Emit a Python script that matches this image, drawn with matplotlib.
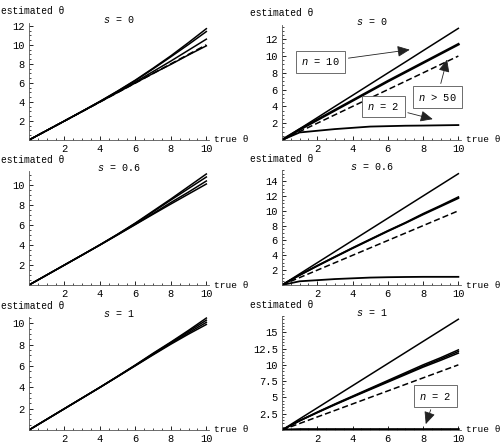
import numpy as np
import matplotlib.pyplot as plt
from matplotlib.ticker import MultipleLocator

plt.rcParams['font.family'] = ['Liberation Mono', 'DejaVu Sans Mono']
plt.rcParams['mathtext.fontset'] = 'custom'
plt.rcParams['mathtext.it'] = 'Liberation Mono:italic'
plt.rcParams['mathtext.rm'] = 'Liberation Mono'

# true theta grid
x = [0, 1, 2, 3, 4, 5, 6, 7, 8, 9, 10]

# left column: estimates for several n (s = 0, 0.6, 1)
left_s0 = [
    [0, 1, 2, 3.02, 4.06, 5.15, 6.3, 7.55, 8.85, 10.25, 11.7],
    [0, 1, 2, 3.02, 4.05, 5.13, 6.25, 7.48, 8.75, 10.05, 11.4],
    [0, 1, 2, 3.0, 4.02, 5.05, 6.1, 7.2, 8.3, 9.45, 10.6],
    [0, 1, 2, 3.0, 4.0, 5.0, 6.0, 7.0, 7.95, 8.95, 9.9],
]
left_s0_dash = [0, 1, 2, 3, 4, 5, 6, 7, 8, 9, 10]
left_s06 = [
    [0, 1, 2, 3.0, 4.02, 5.08, 6.2, 7.4, 8.6, 9.85, 11.1],
    [0, 1, 2, 3.0, 4.02, 5.07, 6.17, 7.32, 8.5, 9.65, 10.8],
    [0, 1, 2, 3.0, 4.0, 5.03, 6.08, 7.15, 8.25, 9.3, 10.4],
    [0, 1, 2, 3.0, 4.0, 5.02, 6.05, 7.08, 8.1, 9.1, 10.1],
]
left_s1 = [
    [0, 1, 2, 3.0, 4.0, 5.04, 6.1, 7.2, 8.25, 9.35, 10.5],
    [0, 1, 2, 3.0, 4.0, 5.03, 6.08, 7.15, 8.2, 9.25, 10.3],
    [0, 1, 2, 3.0, 4.0, 5.02, 6.05, 7.1, 8.12, 9.12, 10.1],
    [0, 1, 2, 3.0, 4.0, 5.01, 6.03, 7.05, 8.05, 9.0, 9.9],
]

# right column
right_s0_n10 = [0, 1.33, 2.66, 4.0, 5.32, 6.65, 7.98, 9.3, 10.64, 11.97, 13.3]
right_s0_mid = [0, 1.25, 2.4, 3.55, 4.7, 5.85, 7.0, 8.1, 9.2, 10.3, 11.4]
right_s0_n2 = [0, 0.9, 1.1, 1.3, 1.45, 1.6, 1.65, 1.7, 1.72, 1.75, 1.78]
right_s06_top = [0, 1.5, 3.0, 4.5, 6.0, 7.5, 9.0, 10.5, 12.0, 13.5, 15.0]
right_s06_mid = [
    [0, 1.35, 2.6, 3.8, 5.0, 6.15, 7.3, 8.4, 9.6, 10.7, 11.85],
    [0, 1.33, 2.57, 3.77, 4.95, 6.1, 7.25, 8.35, 9.5, 10.6, 11.7],
]
right_s06_n2 = [0, 0.5, 0.65, 0.8, 0.9, 1.0, 1.05, 1.08, 1.1, 1.1, 1.1]
right_s1_top = [0, 1.7, 3.4, 5.1, 6.8, 8.5, 10.2, 11.9, 13.6, 15.3, 17.0]
right_s1_mid = [
    [0, 1.45, 2.75, 4.0, 5.2, 6.4, 7.6, 8.8, 10.0, 11.1, 12.3],
    [0, 1.42, 2.7, 3.93, 5.12, 6.3, 7.47, 8.63, 9.8, 10.9, 12.05],
    [0, 1.4, 2.65, 3.87, 5.05, 6.2, 7.35, 8.5, 9.65, 10.7, 11.8],
]
right_s1_n2 = [0, 0.08, 0.08, 0.08, 0.08, 0.08, 0.08, 0.08, 0.08, 0.08, 0.08]
dashed = [0, 1, 2, 3, 4, 5, 6, 7, 8, 9, 10]

titles = ['$s$ = 0', '$s$ = 0.6', '$s$ = 1']

fig = plt.figure(figsize=(5.04, 4.45), dpi=100)

W, H = 504, 445


def make_ax(l, t, r, b, ymax, ystep):
    ax = fig.add_axes([l / W, 1 - b / H, (r - l) / W, (b - t) / H])
    ax.set_xlim(0, 10.15)
    ax.set_ylim(0, ymax)
    for sp in ['top', 'right']:
        ax.spines[sp].set_visible(False)
    for sp in ['left', 'bottom']:
        ax.spines[sp].set_linewidth(0.6)
        ax.spines[sp].set_color('#555555')
    ax.xaxis.set_major_locator(MultipleLocator(2))
    ax.xaxis.set_minor_locator(MultipleLocator(0.5))
    ax.yaxis.set_major_locator(MultipleLocator(ystep))
    ax.yaxis.set_minor_locator(MultipleLocator(ystep / 4))
    ax.tick_params(which='major', direction='in', length=3, width=0.6, labelsize=7.5, pad=3)
    ax.tick_params(which='minor', direction='in', length=1.5, width=0.5)
    ax.set_xticks([2, 4, 6, 8, 10])
    yt = [v for v in np.arange(ystep, ymax, ystep)]
    ax.set_yticks(yt)
    ax.set_yticklabels([('%g' % v) for v in yt])
    ax.patch.set_alpha(0)
    return ax


def decorate(ax, title, w_px, off=32):
    ax.text(-off / w_px, 1.1, 'estimated θ', transform=ax.transAxes, fontsize=6.9,
            ha='left', va='center')
    ax.text(0.5, 1.03, title, transform=ax.transAxes, fontsize=7.2, ha='center', va='center')
    ax.text(1.03, 0.0, 'true θ', transform=ax.transAxes, fontsize=6.8, ha='left', va='center')


lc = 'black'
box = dict(boxstyle='square,pad=0.5', fc='white', ec='#555555', lw=0.6)
arr = dict(arrowstyle='-|>,head_length=1.0,head_width=0.45', color='#222222', lw=0.6)

# left column
rows = [(23, 140, 12.3, 2, left_s0), (171, 285, 11.4, 2, left_s06), (317, 430, 10.6, 2, left_s1)]
for i, (t, b, ymax, st, lines) in enumerate(rows):
    ax = make_ax(29, t, 209, b, ymax, st)
    for yv in lines:
        ax.plot(x, yv, color=lc, lw=1.1)
    if i == 0:
        ax.plot(x, left_s0_dash, color=lc, lw=1.2, ls=(0, (4, 2)))
    decorate(ax, titles[i], 180, off=28)

# right column, top
ax = make_ax(282, 25, 461, 140, 13.7, 2)
ax.plot(x, right_s0_n10, color=lc, lw=1.1)
ax.plot(x, right_s0_mid, color=lc, lw=1.9)
ax.plot(x, dashed, color=lc, lw=1.1, ls=(0, (4, 2)))
ax.plot(x, right_s0_n2, color=lc, lw=1.3)
ax.annotate('$n$ = 10', xy=(7.4, 10.8), xytext=(2.2, 9.3), fontsize=7.5, ha='center', va='center',
            bbox=box, arrowprops=arr)
ax.annotate('$n$ > 50', xy=(9.4, 9.9), xytext=(8.8, 5.1), fontsize=7.5, ha='center', va='center',
            bbox=box, arrowprops=arr)
ax.annotate('$n$ = 2', xy=(8.7, 2.4), xytext=(5.75, 4.0), fontsize=7.5, ha='center', va='center',
            bbox=box, arrowprops=arr)
decorate(ax, titles[0], 179)

# right column, middle
ax = make_ax(282, 170, 461, 285, 15.5, 2)
ax.plot(x, right_s06_top, color=lc, lw=1.1)
for yv in right_s06_mid:
    ax.plot(x, yv, color=lc, lw=1.3)
ax.plot(x, dashed, color=lc, lw=1.1, ls=(0, (4, 2)))
ax.plot(x, right_s06_n2, color=lc, lw=1.3)
decorate(ax, titles[1], 179)

# right column, bottom
ax = make_ax(282, 316, 461, 430, 17.5, 2.5)
ax.set_yticks([2.5, 5, 7.5, 10, 12.5, 15])
ax.set_yticklabels(['2.5', '5', '7.5', '10', '12.5', '15'])
ax.yaxis.set_minor_locator(MultipleLocator(0.5))
ax.plot(x, right_s1_top, color=lc, lw=1.1)
for yv in right_s1_mid:
    ax.plot(x, yv, color=lc, lw=1.1)
ax.plot(x, dashed, color=lc, lw=1.1, ls=(0, (4, 2)))
ax.plot(x, right_s1_n2, color=lc, lw=1.9)
ax.annotate('$n$ = 2', xy=(8.1, 0.5), xytext=(8.7, 5.2), fontsize=7.5, ha='center', va='center',
            bbox=box, arrowprops=arr)
decorate(ax, titles[2], 179)

fig.savefig('out.png', dpi=100)
